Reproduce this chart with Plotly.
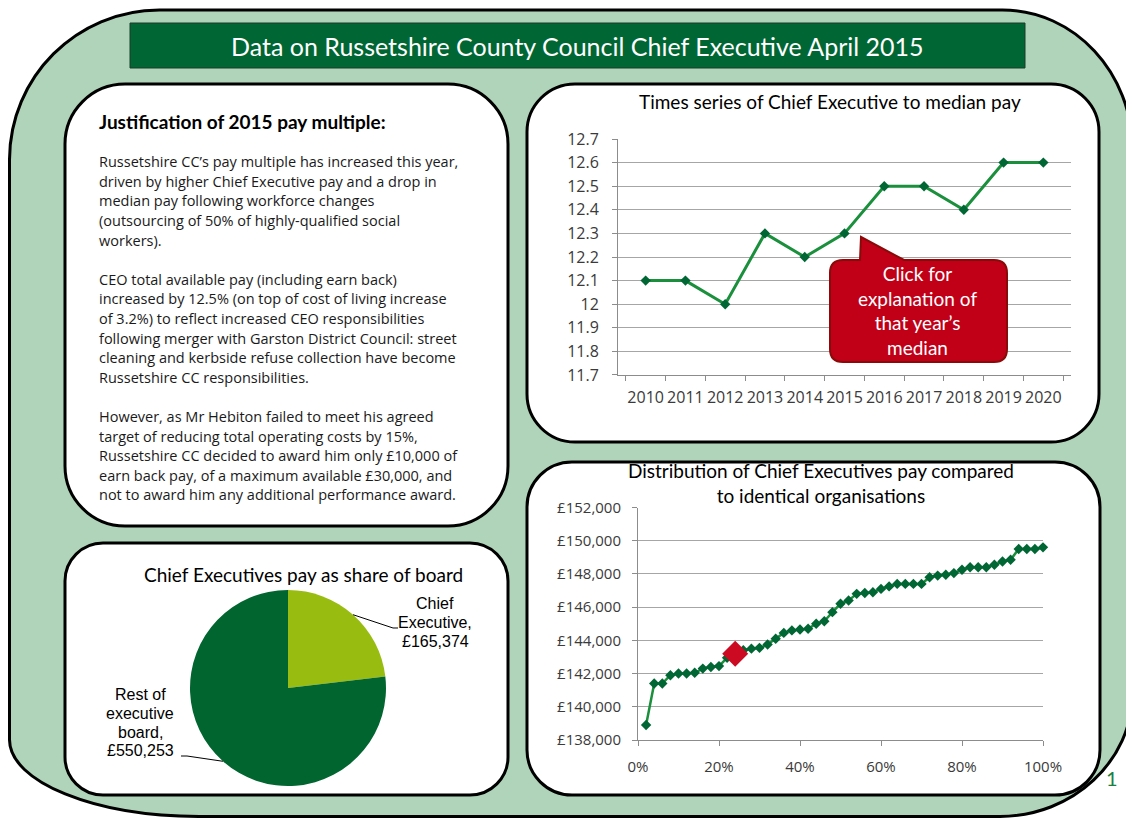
import math
import plotly.graph_objects as go

# The page body has an 8px margin, so the figure is sized to fill the rest of the
# 1134x818 window and page-pixel positions are converted with that offset.
PAGE_W, PAGE_H = 1134, 818
OFF = 8
W, H = PAGE_W - OFF, PAGE_H - OFF

# ---------------- data ----------------
years = ["2010", "2011", "2012", "2013", "2014", "2015", "2016", "2017", "2018", "2019", "2020"]
pay_multiple = [12.1, 12.1, 12.0, 12.3, 12.2, 12.3, 12.5, 12.5, 12.4, 12.6, 12.6]

percentile = [0.02, 0.04, 0.06, 0.08, 0.10, 0.12, 0.14, 0.16, 0.18, 0.20,
              0.22, 0.24, 0.26, 0.28, 0.30, 0.32, 0.34, 0.36, 0.38, 0.40,
              0.42, 0.44, 0.46, 0.48, 0.50, 0.52, 0.54, 0.56, 0.58, 0.60,
              0.62, 0.64, 0.66, 0.68, 0.70, 0.72, 0.74, 0.76, 0.78, 0.80,
              0.82, 0.84, 0.86, 0.88, 0.90, 0.92, 0.94, 0.96, 0.98, 1.00]
ceo_pay = [138900, 141400, 141400, 141900, 142000, 142000, 142050, 142300, 142400, 142450,
           142950, 143200, 143400, 143500, 143550, 143750, 144100, 144450, 144600, 144650,
           144700, 145000, 145150, 145700, 146200, 146400, 146800, 146850, 146900, 147100,
           147250, 147400, 147400, 147400, 147400, 147800, 147900, 147950, 148050, 148250,
           148400, 148400, 148400, 148550, 148750, 148850, 149500, 149500, 149500, 149600]
highlight_percentile = [0.24]
highlight_pay = [143200]

pie_labels = ["Chief Executive", "Rest of executive board"]
pie_values = [165374, 550253]
pie_label_lines = [["Chief", "Executive,"], ["Rest of", "executive", "board,"]]

main_title = "Data on Russetshire County Council Chief Executive April 2015"
text_title = "Justification of 2015 pay multiple:"
body_lines = [
    "Russetshire CC\u2019s pay multiple has increased this year,",
    "driven by higher Chief Executive pay and a drop in",
    "median pay following workforce changes",
    "(outsourcing of 50% of highly-qualified social",
    "workers).",
    "",
    "CEO total available pay (including earn back)",
    "increased by 12.5% (on top of cost of living increase",
    "of 3.2%) to reflect increased CEO responsibilities",
    "following merger with Garston District Council: street",
    "cleaning and kerbside refuse collection have become",
    "Russetshire CC responsibilities.",
    "",
    "However, as Mr Hebiton failed to meet his agreed",
    "target of reducing total operating costs by 15%,",
    "Russetshire CC decided to award him only \u00a310,000 of",
    "earn back pay, of a maximum available \u00a330,000, and",
    "not to award him any additional performance award.",
]
ts_title = "Times series of Chief Executive to median pay"
dist_title = "Distribution of Chief Executives pay compared<br>to identical organisations"
pie_title = "Chief Executives pay as share of board"
callout_text = "Click for<br>explanation of<br>that year\u2019s<br>median"

# ---------------- helpers ----------------
def fx(x):
    return (x - OFF) / W

def fy(y):
    return 1 - (y - OFF) / H

K = 0.5523

def P(x, y):
    return f"{fx(x):.5f},{fy(y):.5f}"

def rrect(x0, y0, x1, y1, tl, tr, br, bl):
    s = "M " + P(x0 + tl[0], y0)
    s += " L " + P(x1 - tr[0], y0)
    s += " C " + P(x1 - tr[0] + K * tr[0], y0) + " " + P(x1, y0 + tr[1] - K * tr[1]) + " " + P(x1, y0 + tr[1])
    s += " L " + P(x1, y1 - br[1])
    s += " C " + P(x1, y1 - br[1] + K * br[1]) + " " + P(x1 - br[0] + K * br[0], y1) + " " + P(x1 - br[0], y1)
    s += " L " + P(x0 + bl[0], y1)
    s += " C " + P(x0 + bl[0] - K * bl[0], y1) + " " + P(x0, y1 - bl[1] + K * bl[1]) + " " + P(x0, y1 - bl[1])
    s += " L " + P(x0, y0 + tl[1])
    s += " C " + P(x0, y0 + tl[1] - K * tl[1]) + " " + P(x0 + tl[0] - K * tl[0], y0) + " " + P(x0 + tl[0], y0)
    s += " Z"
    return s

def panel(x0, y0, x1, y1, r):
    return rrect(x0, y0, x1, y1, (r, r), (r, r), (r, r), (r, r))

def callout_path(x0, y0, x1, y1, r, pl, pr, tipx, tipy):
    s = "M " + P(x0 + r, y0)
    s += " L " + P(pl, y0) + " L " + P(tipx, tipy) + " L " + P(pr, y0)
    s += " L " + P(x1 - r, y0)
    s += " Q " + P(x1, y0) + " " + P(x1, y0 + r)
    s += " L " + P(x1, y1 - r)
    s += " Q " + P(x1, y1) + " " + P(x1 - r, y1)
    s += " L " + P(x0 + r, y1)
    s += " Q " + P(x0, y1) + " " + P(x0, y1 - r)
    s += " L " + P(x0, y0 + r)
    s += " Q " + P(x0, y0) + " " + P(x0 + r, y0)
    s += " Z"
    return s

GREEN_BG = "#b0d4b9"
DARK_GREEN = "#006633"
LINE_GREEN = "#1a8f3c"
GRID = "#a6a6a6"
AXIS = "#8c8c8c"
TS_TICKFONT = dict(family="Open Sans", size=16, color="#3a3a3a")
TICKFONT = dict(family="Open Sans", size=15, color="#3a3a3a")
TITLEFONT = dict(family="Lato", size=19, color="#000000")

fig = go.Figure()

# ---- time series ----
fig.add_trace(go.Scatter(
    x=years, y=pay_multiple, mode="lines+markers",
    line=dict(color=LINE_GREEN, width=3),
    marker=dict(symbol="diamond", size=8, color=DARK_GREEN),
    xaxis="x", yaxis="y", showlegend=False))

# ---- distribution ----
fig.add_trace(go.Scatter(
    x=percentile, y=ceo_pay, mode="lines+markers",
    line=dict(color=LINE_GREEN, width=2.5),
    marker=dict(symbol="diamond", size=8, color=DARK_GREEN),
    cliponaxis=False,
    xaxis="x2", yaxis="y2", showlegend=False))
fig.add_trace(go.Scatter(
    x=highlight_percentile, y=highlight_pay, mode="markers",
    marker=dict(symbol="diamond", size=20, color="#cc0a22"),
    cliponaxis=False,
    xaxis="x2", yaxis="y2", showlegend=False))

# ---- pie ----
pcx, pcy, pr = 288, 688, 98
fig.add_trace(go.Pie(
    labels=pie_labels, values=pie_values, sort=False, direction="clockwise",
    rotation=0, textinfo="none", hole=0, automargin=False,
    marker=dict(colors=["#98bd10", "#00652f"], line=dict(width=0)),
    domain=dict(x=[fx(pcx - pr), fx(pcx + pr)], y=[fy(pcy + pr), fy(pcy - pr)]),
    showlegend=False))

# ---------------- layout ----------------
ts_dom_x = [fx(618), fx(1071)]
ts_dom_y = [fy(375), fy(139)]
d_dom_x = [fx(638), fx(1043)]
d_dom_y = [fy(740), fy(507.5)]

fig.update_layout(
    width=W, height=H,
    autosize=False,
    margin=dict(l=0, r=0, t=0, b=0, pad=0, autoexpand=False),
    paper_bgcolor="white",
    plot_bgcolor="rgba(0,0,0,0)",
    showlegend=False,
    xaxis=dict(domain=ts_dom_x, anchor="y", type="category", showgrid=False,
               showline=True, linecolor=AXIS, linewidth=1, automargin=False,
               ticks="outside", tickson="boundaries", ticklen=5, tickcolor=AXIS, tickangle=0,
               tickfont=TS_TICKFONT, ticklabelstandoff=8, fixedrange=True),
    yaxis=dict(domain=ts_dom_y, anchor="x", range=[11.6999, 12.7001], tick0=11.7, dtick=0.1,
               showgrid=True, gridcolor=GRID, gridwidth=1, automargin=False,
               showline=True, linecolor=AXIS, linewidth=1, zeroline=False,
               ticks="outside", ticklen=5, tickcolor=AXIS,
               tickfont=TS_TICKFONT, ticklabelstandoff=10, fixedrange=True),
    xaxis2=dict(domain=d_dom_x, anchor="y2", range=[0, 1], dtick=0.2, tickformat=".0%",
                showgrid=False, showline=True, linecolor=AXIS, linewidth=1, zeroline=False,
                ticks="outside", ticklen=5, tickcolor=AXIS, tickangle=0, automargin=False,
                tickfont=TICKFONT, ticklabelstandoff=8, fixedrange=True),
    yaxis2=dict(domain=d_dom_y, anchor="x2", range=[138000, 152000], dtick=2000,
                tickprefix="\u00a3", tickformat=",d",
                showgrid=True, gridcolor=GRID, gridwidth=1, automargin=False,
                showline=True, linecolor=AXIS, linewidth=1, zeroline=False,
                ticks="outside", ticklen=5, tickcolor=AXIS,
                tickfont=TICKFONT, ticklabelstandoff=8, fixedrange=True),
)

shapes = []
# outer green background
shapes.append(dict(type="path", xref="paper", yref="paper", layer="below",
                   path=rrect(9.5, 10, 1132.5, 816.5, (150, 150), (130, 140), (133, 124), (190, 77)),
                   fillcolor=GREEN_BG, line=dict(color="black", width=3)))
# title bar
shapes.append(dict(type="rect", xref="paper", yref="paper", layer="below",
                   x0=fx(130), x1=fx(1025), y0=fy(68), y1=fy(23),
                   fillcolor=DARK_GREEN, line=dict(color="#1d3b28", width=1)))
# panels
for (x0, y0, x1, y1, r) in [(65, 84, 508, 526, 60), (527, 84, 1099, 442, 48),
                            (65, 543, 508, 795, 38), (527, 462, 1100, 795, 45)]:
    shapes.append(dict(type="path", xref="paper", yref="paper", layer="below",
                       path=panel(x0, y0, x1, y1, r),
                       fillcolor="white", line=dict(color="black", width=3)))
# callout
shapes.append(dict(type="path", xref="paper", yref="paper", layer="above",
                   path=callout_path(830, 260, 1007, 362, 13, 860, 904, 861, 237),
                   fillcolor="#c10018", line=dict(color="#8a0a0a", width=2)))

# pie leader lines (from slice mid-angle on the rim)
total = sum(pie_values)
cum = 0
mids = []
for v in pie_values:
    mids.append((cum + v / 2) / total * 2 * math.pi)
    cum += v
elbows = [[(393, 628), (398, 628)], [(187, 756), (181, 756)]]
for ang, elb in zip(mids, elbows):
    ex = pcx + pr * math.sin(ang)
    ey = pcy - pr * math.cos(ang)
    pts = [(ex, ey)] + elb
    path = "M " + " L ".join(P(a, b) for a, b in pts)
    shapes.append(dict(type="path", xref="paper", yref="paper", layer="above",
                       path=path, line=dict(color="black", width=1)))

fig.update_layout(shapes=shapes)

ann = []
ann.append(dict(x=fx(577), y=fy(46), xref="paper", yref="paper", text=main_title,
                showarrow=False, font=dict(family="Lato", size=25, color="white"),
                xanchor="center", yanchor="middle"))
ann.append(dict(x=fx(97), y=fy(122), xref="paper", yref="paper", text="<b>" + text_title + "</b>",
                showarrow=False, font=dict(family="Lato", size=19, color="black"),
                xanchor="left", yanchor="middle"))
for i, line in enumerate(body_lines):
    if not line:
        continue
    ann.append(dict(x=fx(97), y=fy(161.7 + 19.6 * i), xref="paper", yref="paper", text=line,
                    showarrow=False, font=dict(family="Open Sans", size=14.5, color="#1a1a1a"),
                    xanchor="left", yanchor="middle"))
ann.append(dict(x=fx(830), y=fy(101), xref="paper", yref="paper", text=ts_title,
                showarrow=False, font=TITLEFONT, xanchor="center", yanchor="middle"))
ann.append(dict(x=fx(821), y=fy(483), xref="paper", yref="paper", text=dist_title,
                showarrow=False, font=TITLEFONT, xanchor="center", yanchor="middle"))
ann.append(dict(x=fx(303), y=fy(574), xref="paper", yref="paper", text=pie_title,
                showarrow=False, font=TITLEFONT, xanchor="center", yanchor="middle"))
ann.append(dict(x=fx(918), y=fy(311), xref="paper", yref="paper", text=callout_text,
                showarrow=False, font=dict(family="Lato", size=19, color="white"),
                xanchor="center", yanchor="middle"))

# pie labels, one annotation per line
label_pos = [(435, 603.5, 19), (140, 694.5, 18.8)]
for lines, val, (lx, ly, step) in zip(pie_label_lines, pie_values, label_pos):
    all_lines = lines + ["\u00a3{:,}".format(val)]
    for j, t in enumerate(all_lines):
        ann.append(dict(x=fx(lx), y=fy(ly + step * j), xref="paper", yref="paper", text=t,
                        showarrow=False, font=dict(family="Liberation Sans", size=16, color="black"),
                        xanchor="center", yanchor="middle"))

ann.append(dict(x=fx(1112), y=fy(778), xref="paper", yref="paper", text="1",
                showarrow=False, font=dict(family="Lato", size=20, color="#1a8040"),
                xanchor="center", yanchor="middle"))
fig.update_layout(annotations=ann)

fig.write_html("out.html")
